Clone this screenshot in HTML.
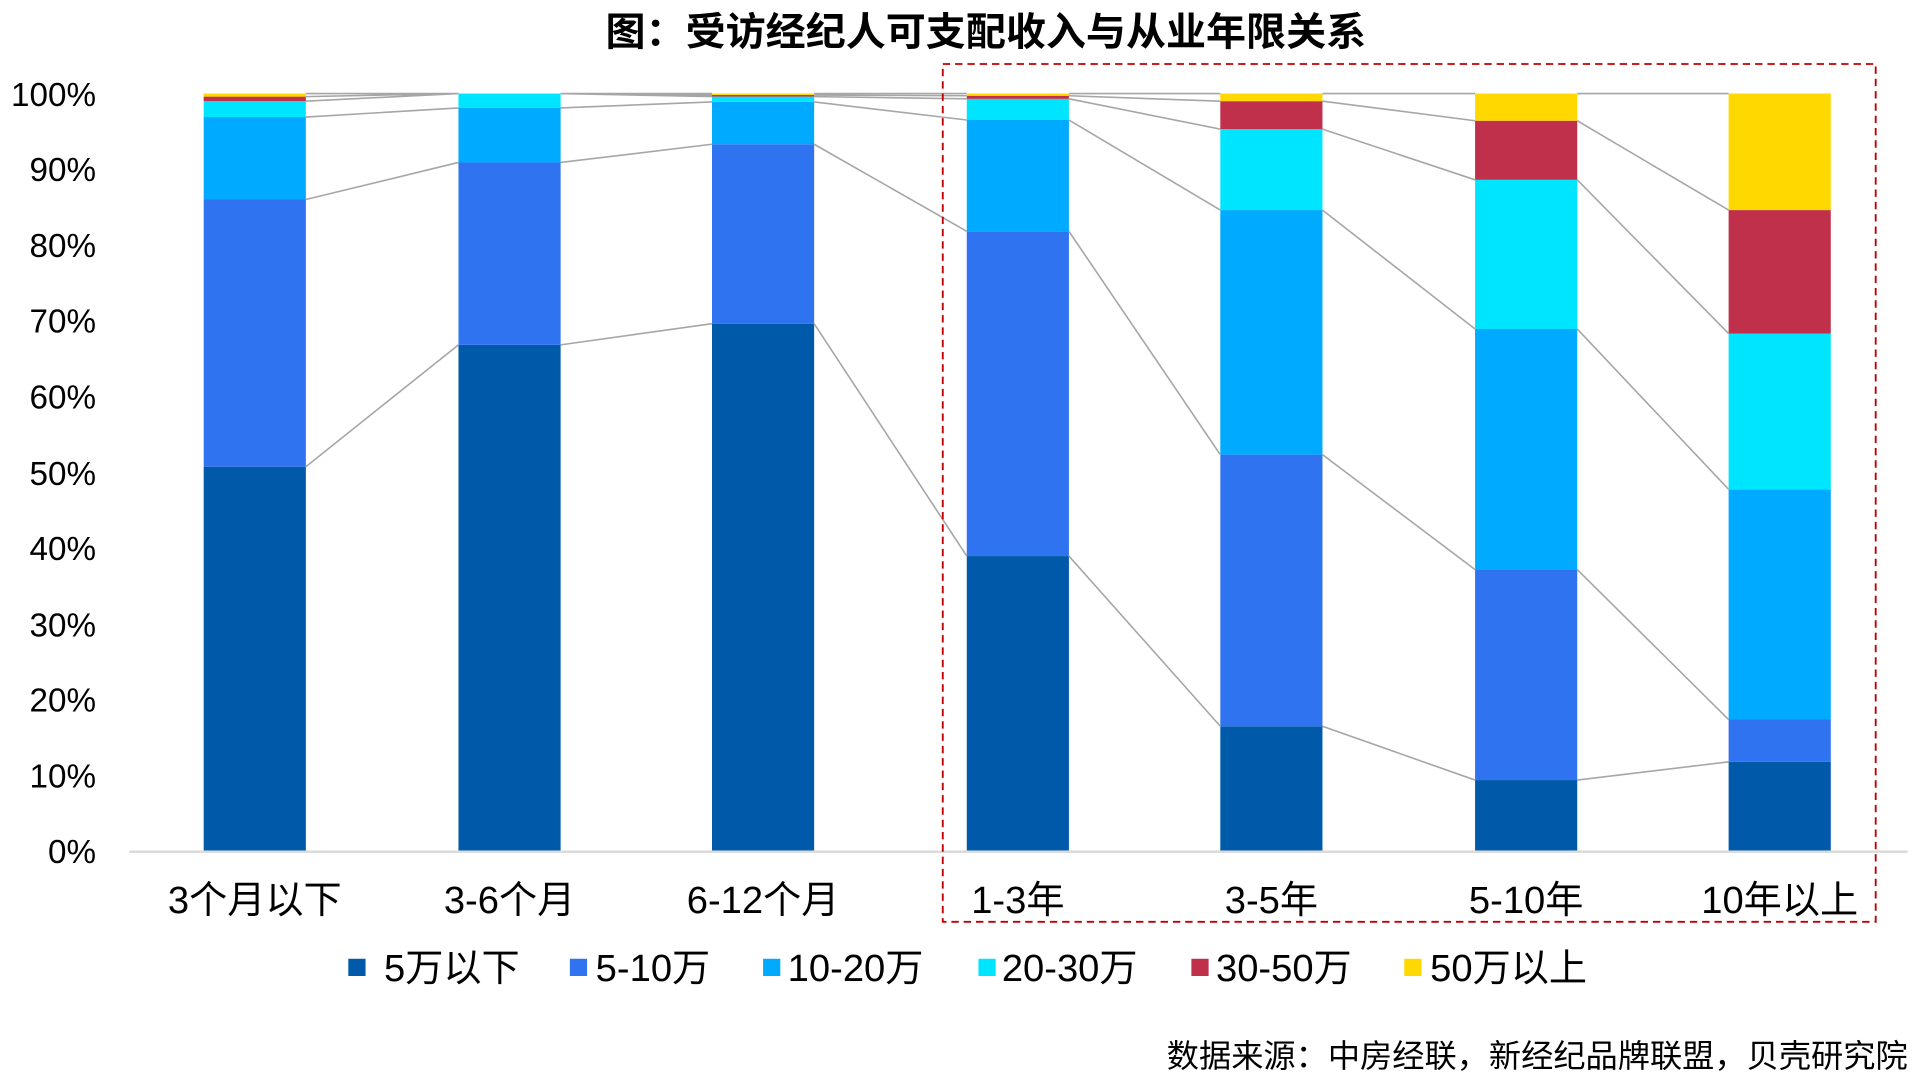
<!DOCTYPE html>
<html><head><meta charset="utf-8"><style>
html,body{margin:0;padding:0;background:#fff;}
svg{display:block;}
text{font-family:"Liberation Sans","Noto Sans CJK SC",sans-serif;fill:#000;}
</style></head><body>
<svg width="1920" height="1080" viewBox="0 0 1560 877.5" preserveAspectRatio="none" xmlns="http://www.w3.org/2000/svg">
<text x="801" y="37" font-size="32" text-anchor="middle" font-weight="bold" textLength="618" lengthAdjust="spacingAndGlyphs">图：受访经纪人可支配收入与从业年限关系</text>
<g font-size="27" text-anchor="end">
<text x="78" y="86">100%</text><text x="78" y="147">90%</text><text x="78" y="209">80%</text>
<text x="78" y="270">70%</text><text x="78" y="332">60%</text><text x="78" y="394">50%</text>
<text x="78" y="455">40%</text><text x="78" y="517">30%</text><text x="78" y="578">20%</text>
<text x="78" y="640">10%</text><text x="78" y="701">0%</text>
</g>
<line x1="105" y1="692" x2="1550" y2="692" stroke="#d9d9d9" stroke-width="2"/>
<g>
<rect x="165.5" y="379.2" width="83" height="311.8" fill="#005aa9"/>
<rect x="165.5" y="162.1" width="83" height="217.1" fill="#2f73f0"/>
<rect x="165.5" y="95.1" width="83" height="67" fill="#00aaff"/>
<rect x="165.5" y="82.2" width="83" height="12.9" fill="#00e5ff"/>
<rect x="165.5" y="78.5" width="83" height="3.7" fill="#c0304a"/>
<rect x="165.5" y="76" width="83" height="2.5" fill="#ffd800"/>

<rect x="372.5" y="280.2" width="83" height="410.8" fill="#005aa9"/>
<rect x="372.5" y="132" width="83" height="148.2" fill="#2f73f0"/>
<rect x="372.5" y="87.7" width="83" height="44.3" fill="#00aaff"/>
<rect x="372.5" y="76" width="83" height="11.7" fill="#00e5ff"/>

<rect x="578.5" y="263" width="83" height="428" fill="#005aa9"/>
<rect x="578.5" y="117.2" width="83" height="145.8" fill="#2f73f0"/>
<rect x="578.5" y="82.8" width="83" height="34.4" fill="#00aaff"/>
<rect x="578.5" y="78.5" width="83" height="4.3" fill="#00e5ff"/>
<rect x="578.5" y="77.2" width="83" height="1.3" fill="#c0304a"/>
<rect x="578.5" y="76" width="83" height="1.2" fill="#ffd800"/>

<rect x="785.5" y="451.8" width="83" height="239.2" fill="#005aa9"/>
<rect x="785.5" y="187.9" width="83" height="263.9" fill="#2f73f0"/>
<rect x="785.5" y="97.5" width="83" height="90.4" fill="#00aaff"/>
<rect x="785.5" y="80.3" width="83" height="17.2" fill="#00e5ff"/>
<rect x="785.5" y="77.8" width="83" height="2.5" fill="#c0304a"/>
<rect x="785.5" y="76" width="83" height="1.8" fill="#ffd800"/>

<rect x="991.5" y="590.1" width="83" height="100.9" fill="#005aa9"/>
<rect x="991.5" y="369.4" width="83" height="220.7" fill="#2f73f0"/>
<rect x="991.5" y="170.7" width="83" height="198.7" fill="#00aaff"/>
<rect x="991.5" y="104.9" width="83" height="65.8" fill="#00e5ff"/>
<rect x="991.5" y="82.2" width="83" height="22.7" fill="#c0304a"/>
<rect x="991.5" y="76" width="83" height="6.2" fill="#ffd800"/>

<rect x="1198.5" y="633.8" width="83" height="57.2" fill="#005aa9"/>
<rect x="1198.5" y="462.8" width="83" height="171" fill="#2f73f0"/>
<rect x="1198.5" y="267.3" width="83" height="195.5" fill="#00aaff"/>
<rect x="1198.5" y="146.1" width="83" height="121.2" fill="#00e5ff"/>
<rect x="1198.5" y="98.1" width="83" height="48" fill="#c0304a"/>
<rect x="1198.5" y="76" width="83" height="22.1" fill="#ffd800"/>

<rect x="1404.5" y="619" width="83" height="72" fill="#005aa9"/>
<rect x="1404.5" y="584.6" width="83" height="34.4" fill="#2f73f0"/>
<rect x="1404.5" y="397.6" width="83" height="187" fill="#00aaff"/>
<rect x="1404.5" y="271" width="83" height="126.6" fill="#00e5ff"/>
<rect x="1404.5" y="170.7" width="83" height="100.3" fill="#c0304a"/>
<rect x="1404.5" y="76" width="83" height="94.7" fill="#ffd800"/>
</g>
<path fill="none" stroke="#a6a6a6" stroke-width="1.3" d="
M248.5 379.2L372.5 280.2 M248.5 162.1L372.5 132 M248.5 95.1L372.5 87.7 M248.5 82.2L372.5 76 M248.5 78.5L372.5 76 M248.5 76L372.5 76
M455.5 280.2L578.5 263 M455.5 132L578.5 117.2 M455.5 87.7L578.5 82.8 M455.5 76L578.5 78.5 M455.5 76L578.5 77.2 M455.5 76L578.5 76
M661.5 263L785.5 451.8 M661.5 117.2L785.5 187.9 M661.5 82.8L785.5 97.5 M661.5 78.5L785.5 80.3 M661.5 77.2L785.5 77.8 M661.5 76L785.5 76
M868.5 451.8L991.5 590.1 M868.5 187.9L991.5 369.4 M868.5 97.5L991.5 170.7 M868.5 80.3L991.5 104.9 M868.5 77.8L991.5 82.2 M868.5 76L991.5 76
M1074.5 590.1L1198.5 633.8 M1074.5 369.4L1198.5 462.8 M1074.5 170.7L1198.5 267.3 M1074.5 104.9L1198.5 146.1 M1074.5 82.2L1198.5 98.1 M1074.5 76L1198.5 76
M1281.5 633.8L1404.5 619 M1281.5 462.8L1404.5 584.6 M1281.5 267.3L1404.5 397.6 M1281.5 146.1L1404.5 271 M1281.5 98.1L1404.5 170.7 M1281.5 76L1404.5 76"/>
<rect x="766" y="52" width="758" height="697" fill="none" stroke="#c00000" stroke-width="1.5" stroke-dasharray="6,4"/>
<g font-size="31" text-anchor="middle">
<text x="207" y="742">3个月以下</text><text x="414" y="742">3-6个月</text><text x="620" y="742">6-12个月</text>
<text x="827" y="742">1-3年</text><text x="1033" y="742">3-5年</text><text x="1240" y="742">5-10年</text><text x="1446" y="742">10年以上</text>
</g>
<g font-size="31">
<rect x="283" y="779" width="14" height="14" fill="#005aa9"/><text x="312" y="797">5万以下</text>
<rect x="463" y="779" width="14" height="14" fill="#2f73f0"/><text x="484" y="797">5-10万</text>
<rect x="620" y="779" width="14" height="14" fill="#00aaff"/><text x="640" y="797">10-20万</text>
<rect x="795" y="779" width="14" height="14" fill="#00e5ff"/><text x="814" y="797">20-30万</text>
<rect x="968" y="779" width="14" height="14" fill="#c0304a"/><text x="988" y="797">30-50万</text>
<rect x="1141" y="779" width="14" height="14" fill="#ffd800"/><text x="1162" y="797">50万以上</text>
</g>
<text x="1550" y="867" font-size="26" text-anchor="end" textLength="602" lengthAdjust="spacingAndGlyphs">数据来源：中房经联，新经纪品牌联盟，贝壳研究院</text>
</svg>
</body></html>
